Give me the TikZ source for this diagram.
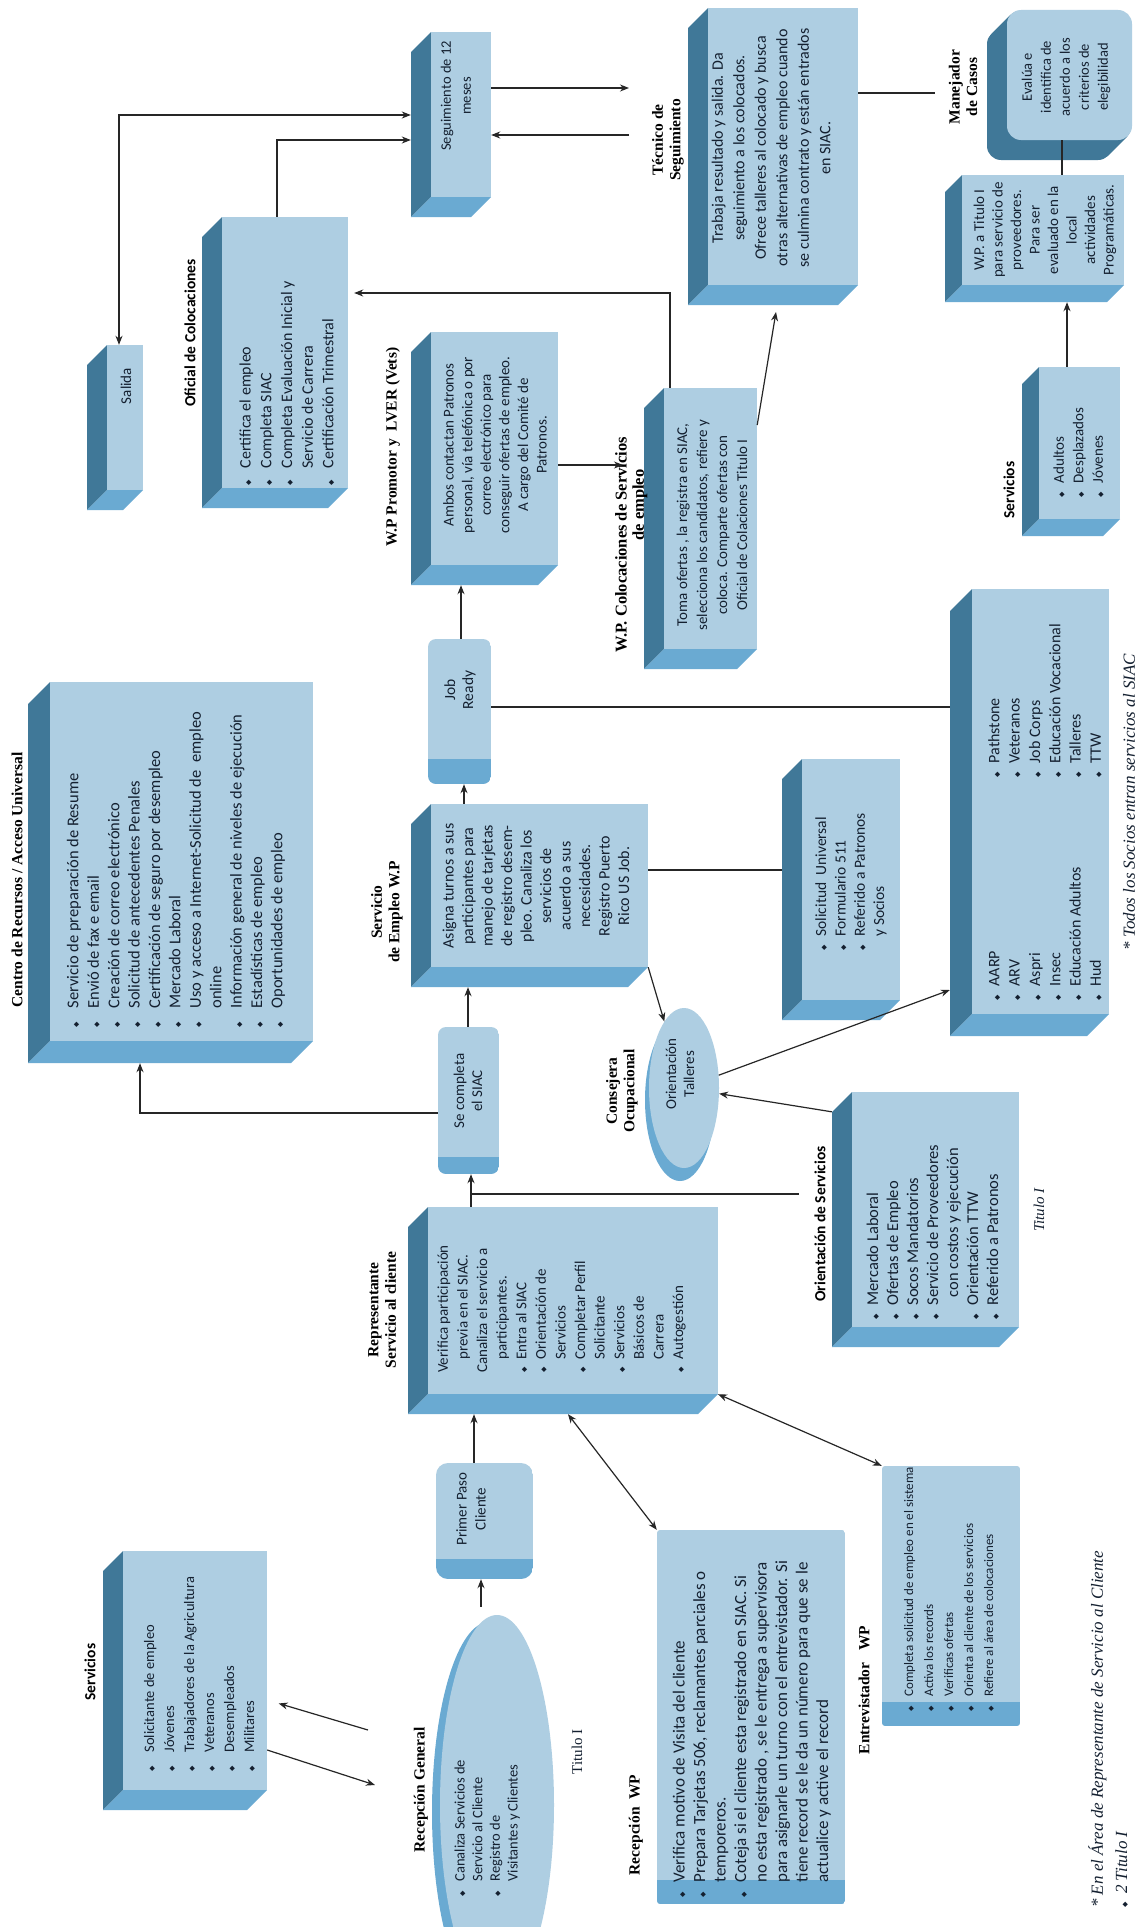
\documentclass[tikz,border=0pt]{standalone}
\usepackage{fontspec}
\setmainfont{Carlito}
\newfontfamily\tms{Liberation Serif}
\newfontfamily\djv{DejaVu Sans}
\usetikzlibrary{arrows.meta,fit,shapes.geometric}
\definecolor{facec}{RGB}{174,206,226}
\definecolor{sidec}{RGB}{64,120,152}
\definecolor{botc}{RGB}{106,170,210}
\definecolor{inkc}{RGB}{20,32,48}
\newcommand\dia{{\djv\fontsize{7}{7}\selectfont\char"25C6}}
\newcommand\bls[1]{\begin{tabular}{@{}l@{\hspace{#1}}l@{}}}
\newcommand\ble{\end{tabular}}
\newcommand\fsz[2]{\fontsize{#1}{#2}\selectfont}
\newcommand\cubebox[6]{%
  \fill[sidec] (#2,#3) -- (#2-#6,#3+#6) -- (#2-#6,#5+#6) -- (#2,#5) -- cycle;
  \fill[botc] (#2,#5) -- (#2-#6,#5+#6) -- (#4-#6,#5+#6) -- (#4,#5) -- cycle;
  \node[fit={(#2,#3) (#4,#5)}, inner sep=0pt, fill=facec] (#1) {};
  \node[fit={(#2-#6,#3+#6) (#4-#6,#5+#6)}, inner sep=0pt] (#1b) {};
}
\newcommand\cylbox[7]{%
  \begin{scope}
    \clip[rounded corners=#7] (#2,#3) rectangle (#4,#5+#6);
    \fill[facec] (#2,#3) rectangle (#4,#5);
    \fill[botc] (#2,#5) rectangle (#4,#5+#6);
  \end{scope}
  \node[fit={(#2,#3) (#4,#5+#6)}, inner sep=0pt] (#1) {};
}
\tikzset{
  txt/.style={rotate=90, inner sep=0pt, text=inkc},
  lbl/.style={rotate=90, inner sep=0pt, align=center, font=\tms\bfseries\fsz{15.5}{17.5}},
  slbl/.style={rotate=90, inner sep=0pt, align=center, font=\bfseries\fsz{15.5}{17.5}},
  conn/.style={line width=1.2pt, draw=black!85},
  arr/.style={conn, -{Stealth[length=9pt,width=7pt]}},
  darr/.style={conn, {Stealth[length=9pt,width=7pt]}-{Stealth[length=9pt,width=7pt]}},
}
\begin{document}
\begin{tikzpicture}[x=1pt,y=-1pt]
\useasboundingbox (0,0) rectangle (1144,1927);
\fill[white] (0,0) rectangle (1144,1927);

% ---------- Salida
\cubebox{salida}{107}{345}{143}{490}{20}
\node[txt, font=\fsz{15}{17}] (salida-t) at (126,386) {Salida};

% ---------- Oficial de Colocaciones
\cubebox{oficial}{222}{217}{348}{488}{20}
\node[slbl] (oficial-l) at (190,333) {Oficial de Colocaciones};
\node[txt, anchor=north west, font=\fsz{16}{20.7}] (oficial-t) at (236,486)
  {\bls{12pt}\dia & Certifica el empleo\\ \dia & Completa SIAC\\ \dia & Completa Evaluación Inicial y\\ & Servicio de Carrera\\ \dia & Certificación Trimestral\ble};

% ---------- Seguimiento de 12 meses
\cubebox{seg}{431}{32}{491}{197}{20}
\node[txt, align=center, font=\fsz{14.5}{20}] (seg-t) at (456,96) {Seguimiento de 12\\meses};

% ---------- Tecnico de Seguimiento
\cubebox{tec}{708}{8}{858}{285}{20}
\node[txt, align=center, font=\fsz{16}{21.5}] (tec-t) at (771,148)
  {Trabaja resultado y salida. Da\\seguimiento a los colocados.\\Ofrece talleres al colocado y busca\\otras alternativas de empleo cuando\\se culmina contrato y están entrados\\en SIAC.};
\node[lbl] (tec-l) at (668,140) {Técnico de\\Seguimiento};

% ---------- Manejador de Casos
\foreach \k in {20,19,...,1} \fill[sidec, rounded corners=14pt] (1007-\k,10+\k) rectangle (1132-\k,140+\k);
\node[fit={(1007,10) (1132,140)}, inner sep=0pt, fill=facec, rounded corners=14pt] (man) {};
\node[txt, align=center, font=\fsz{14.5}{19}] (man-t) at (1066,77) {Evalúa e\\identifica de\\acuerdo a los\\criterios de\\elegibilidad};
\node[lbl] (man-l) at (963,87) {Manejador\\de Casos};

% ---------- W.P. a Titulo I
\cubebox{wpt}{962}{175}{1124}{285}{17}
\node[txt, align=center, font=\fsz{15}{18.5}] (wpt-t) at (1045,230)
  {W.P. a Titulo I\\para servicio de\\proveedores.\\Para ser\\evaluado en la\\local\\actividades\\Programáticas.};

% ---------- Servicios (right)
\cubebox{servr}{1039}{367}{1120}{519}{17}
\node[slbl] (servr-l) at (1009,490) {Servicios};
\node[txt, anchor=north west, font=\fsz{15}{19.5}] (servr-t) at (1050,498)
  {\bls{9pt}\dia & Adultos\\ \dia & Desplazados\\ \dia & Jóvenes\ble};

% ---------- Big services box
\cubebox{big}{972}{589}{1109}{1014}{22}
\node[txt, anchor=north west, font=\fsz{16}{20.3}] (big-t1) at (985,778)
  {\bls{9pt}\dia & Pathstone\\ \dia & Veteranos\\ \dia & Job Corps\\ \dia & Educación Vocacional\\ \dia & Talleres\\ \dia & TTW\ble};
\node[txt, anchor=north west, font=\fsz{16}{20.3}] (big-t2) at (985,1001)
  {\bls{9pt}\dia & AARP\\ \dia & ARV\\ \dia & Aspri\\ \dia & Insec\\ \dia & Educación Adultos\\ \dia & Hud\ble};
\node[txt, font=\tms\itshape\fsz{17}{19}] (fn1) at (1129,802) {* Todos los Socios entran servicios al SIAC};

% ---------- Solicitud Universal
\cubebox{sol}{802}{759}{900}{1000}{20}
\node[txt, anchor=north west, font=\fsz{15.5}{19.3}] (sol-t) at (812.5,951)
  {\bls{9pt}\dia & Solicitud\ \ Universal\\ \dia & Formulario 511\\ \dia & Referido a Patronos\\ & y Socios\ble};

% ---------- Servicio de Empleo W.P
\cubebox{sem}{431}{804}{648}{967}{20}
\node[txt, align=center, font=\fsz{16}{19.5}] (sem-t) at (536,886)
  {Asigna turnos a sus\\participantes para\\manejo de tarjetas\\de registro desem-\\pleo. Canaliza los\\servicios de\\acuerdo a sus\\necesidades.\\Registro Puerto\\Rico US Job.};
\node[lbl] (sem-l) at (387,912) {Servicio\\de Empleo W.P};

% ---------- Job Ready
\cylbox{job}{428}{639}{491}{759}{25}{8pt}
\node[txt, align=center, font=\fsz{15.5}{18}] (job-t) at (460,690) {Job\\Ready};

% ---------- W.P Promotor
\cubebox{pro}{431}{332}{558}{565}{20}
\node[txt, align=center, font=\fsz{15}{18.6}] (pro-t) at (495,445)
  {Ambos contactan Patronos\\personal, vía telefónica o por\\correo electrónico para\\conseguir ofertas de empleo.\\A cargo del Comité de\\Patronos.};
\node[lbl] (pro-l) at (393,447) {W.P Promotor y\ \ LVER (Vets)};

% ---------- W.P. Colocaciones
\cubebox{col}{664}{388}{757}{649}{20}
\node[txt, align=center, font=\fsz{15}{20}] (col-t) at (712,525)
  {Toma ofertas , la registra en SIAC,\\selecciona los candidatos, refiere y\\coloca. Comparte ofertas con\\Oficial de Colaciones Titulo I};
\node[lbl, font=\tms\bfseries\fsz{16.5}{18}] (col-l1) at (621,545) {W.P. Colocaciones de Servicios};
\node[lbl, font=\tms\bfseries\fsz{16.5}{18}] (col-l2) at (640,505) {de empleo};

% ---------- Centro de Recursos
\cubebox{cen}{50}{682}{313}{1041}{22}
\node[lbl] (cen-l) at (17,880) {Centro de Recursos / Acceso Universal};
\node[txt, anchor=north west, font=\fsz{16.5}{20.4}] (cen-t) at (64,1028)
  {\bls{14pt}\dia & Servicio de preparación de Resume\\ \dia & Envió de fax e email\\ \dia & Creación de correo electrónico\\ \dia & Solicitud de antecedentes Penales\\ \dia & Certificación de seguro por desempleo\\ \dia & Mercado Laboral\\ \dia & Uso y acceso a Internet-Solicitud de\ \ empleo\\ & online\\ \dia & Información general de niveles de ejecución\\ \dia & Estadísticas de empleo\\ \dia & Oportunidades de empleo\ble};

% ---------- Se completa el SIAC
\cylbox{sec}{438}{1027}{499}{1157}{17}{8pt}
\node[txt, align=center, font=\fsz{15}{18}] (sec-t) at (468,1091) {Se completa\\el SIAC};

% ---------- Orientacion Talleres (ellipse)
\fill[botc] (680,1100) ellipse [x radius=35pt, y radius=81pt];
\node[ellipse, fill=facec, minimum width=70pt, minimum height=160pt, inner sep=0pt] (ell) at (684,1088) {};
\node[txt, align=center, font=\fsz{15}{18}] (ell-t) at (680,1074) {Orientación\\Talleres};
\node[lbl] (ell-l) at (622,1091) {Consejera\\Ocupacional};

% ---------- Representante
\cubebox{rep}{428}{1207}{718}{1394}{20}
\node[lbl] (rep-l) at (382,1310) {Representante\\Servicio al cliente};
\node[txt, anchor=north west, font=\fsz{15}{19.6}] (rep-t) at (434,1373)
  {\bls{8pt}\multicolumn{2}{@{}l@{}}{Verifica participación}\\ & previa en el SIAC.\\ \multicolumn{2}{@{}l@{}}{Canaliza el servicio a}\\ & participantes.\\ \dia & Entra al SIAC\\ \dia & Orientación de\\ & Servicios\\ \dia & Completar Perfil\\ & Solicitante\\ \dia & Servicios\\ & Básicos de\\ & Carrera\\ \dia & Autogestión\ble};

% ---------- Orientacion de Servicios
\cubebox{ors}{852}{1092}{1019}{1327}{20}
\node[slbl] (ors-l) at (820,1224) {Orientación de Servicios};
\node[txt, anchor=north west, font=\fsz{16.5}{20}] (ors-t) at (864,1320)
  {\bls{9pt}\dia & Mercado Laboral\\ \dia & Ofertas de Empleo\\ \dia & Socos Mandatorios\\ \dia & Servicio de Proveedores\\ & \hspace{8pt}con costos y ejecución\\ \dia & Orientación TTW\\ \dia & Referido a Patronos\ble};
\node[txt, font=\tms\itshape\fsz{15}{17}] (ors-ti) at (1039,1210) {Titulo I};

% ---------- Servicios (left)
\cubebox{servl}{123}{1551}{267}{1790}{20}
\node[slbl] (servl-l) at (90,1672) {Servicios};
\node[txt, anchor=north west, font=\fsz{14.5}{20}] (servl-t) at (140,1772)
  {\bls{14pt}\dia & Solicitante de empleo\\ \dia & Jóvenes\\ \dia & Trabajadores de la Agricultura\\ \dia & Veteranos\\ \dia & Desempleados\\ \dia & Militares\ble};

% ---------- Recepcion General
\fill[botc] (489,1812) ellipse [x radius=57pt, y radius=190pt];
\node[ellipse, fill=facec, minimum width=114pt, minimum height=380pt, inner sep=0pt] (recg) at (497,1805) {};
\node[txt, anchor=north west, font=\fsz{14.5}{17.7}] (recg-t) at (452,1897)
  {\bls{10pt}\dia & Canaliza Servicios de\\ & Servicio al Cliente\\ \dia & Registro de\\ & Visitantes y Clientes\ble};
\node[lbl] (recg-l) at (421,1790) {Recepción General};
\node[txt, font=\tms\fsz{15}{17}] (recg-ti) at (577,1752) {Titulo I};

% ---------- Primer Paso Cliente
\cylbox{pp}{436}{1463}{533}{1559}{20}{12pt}
\node[txt, align=center, font=\fsz{15}{19}] (pp-t) at (471,1509) {Primer Paso\\Cliente};

% ---------- Recepcion WP
\cylbox{rwp}{657}{1530}{845}{1880}{24}{3pt}
\node[txt, anchor=north west, font=\fsz{17}{20.5}] (rwp-t) at (670,1898)
  {\bls{10pt}\dia & Verifica motivo de Visita del cliente\\ \dia & Prepara Tarjetas 506, reclamantes parciales o\\ & temporeros.\\ \dia & Coteja si el cliente esta registrado en SIAC. Si\\ & no esta registrado , se le entrega a supervisora\\ & para asignarle un turno con el entrevistador. Si\\ & tiene record se le da un número para que se le\\ & actualice y active el record\ble};
\node[lbl] (rwp-l) at (636,1825) {Recepción\ \ WP};

% ---------- Entrevistador WP
\cylbox{ent}{882}{1466}{1020}{1702}{24}{3pt}
\node[txt, anchor=north west, font=\fsz{13}{20}] (ent-t) at (899,1712)
  {\bls{10pt}\dia & Completa solicitud de empleo en el sistema\\ \dia & Activa los records\\ \dia & Verificas ofertas\\ \dia & Orienta al cliente de los servicios\\ \dia & Refiere al área de colocaciones\ble};
\node[lbl] (ent-l) at (864,1690) {Entrevistador\ \ \ WP};

% ---------- footnotes
\node[txt, anchor=north west, font=\tms\itshape\fsz{17}{19}] (fn2) at (1088,1908) {* En el Área de Representante de Servicio al Cliente};
\node[txt, anchor=north west, font=\tms\itshape\fsz{17}{19}] (fn3) at (1115,1908) {\dia\ \ 2 Titulo I};

% ---------- connectors
\coordinate (tecin) at (629,88);
\coordinate (tecout) at (629,135);
\coordinate (tecarr) at (776,312);
\coordinate (colin) at (623,465);
\coordinate (manend) at (935,93);
\coordinate (orsend) at (799,1194);
\coordinate (junc) at (471,1194);
\coordinate (q1) at (368,1730);
\coordinate (q2) at (375,1785);

\draw[darr] (salida.north -| 119,0) -- (119,115) -- (segb.west |- 0,115);
\draw[arr] (oficial.north -| 277,0) -- (277,140) -- (segb.west |- 0,140);
\draw[arr] (seg.east |- tecin) -- (tecin);
\draw[arr] (tecout) -- (seg.east |- tecout);
\draw[arr, shorten >=6pt] (col.north -| 670,0) -- (670,293) -- (oficial.east |- 0,293);
\draw[arr] (col.east |- 0,425) -- (tecarr);
\draw[arr] (pro.east |- colin) -- (colin);
\draw[arr] (job.north -| 461,0) -- (prob.south -| 461,0);
\draw[arr] (sem.north -| 464,0) -- (job.south -| 464,0);
\draw[conn] (job.east |- 0,707) -- (bigb.west |- 0,707);
\draw[conn] (sem.east |- 0,870) -- (solb.west |- 0,870);
\draw[conn] (tec.east |- manend) -- (manend);
\draw[conn] (wpt.north -| 1062,0) -- (man.south -| 1062,0);
\draw[arr] (servr.north -| 1067,0) -- (wptb.south -| 1067,0);
\draw[arr] (sec.north -| 468,0) -- (semb.south -| 468,0);
\draw[arr] (sec.west |- 0,1113) -- (140,1113) -- (cenb.south -| 140,0);
\draw[arr] (rep.north -| 471,0) -- (sec.south -| 471,0);
\draw[conn] (junc) -- (orsend);
\draw[arr] (sem.south east) -- (ell);
\draw[arr] (ell) -- (bigb.west |- 0,990);
\draw[arr] (orsb.north west) -- (ell);
\draw[arr, shorten >=12pt] (q1) -- (servl.east |- 0,1700);
\draw[arr] (servl.east |- 0,1750) -- (q2);
\draw[arr, shorten <=8pt] (recg.north -| 481,0) -- (pp.south -| 481,0);
\draw[arr] (pp.north -| 474,0) -- (repb.south -| 474,0);
\draw[darr] (repb.south -| 568,0) -- (rwp.north west);
\draw[darr] (rep.south east) -- (ent.north west);
\end{tikzpicture}
\end{document}
